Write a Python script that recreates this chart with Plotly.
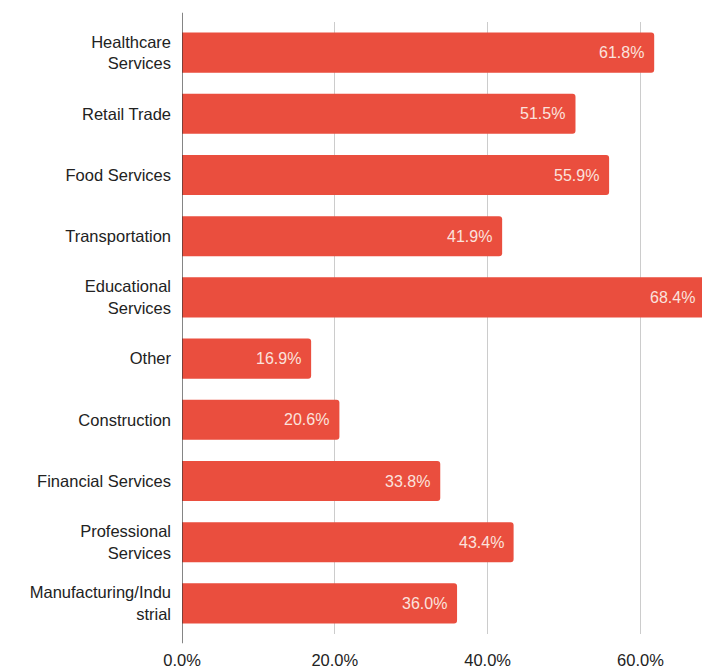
import plotly.graph_objects as go

categories = ["Healthcare<br>Services", "Retail Trade", "Food Services", "Transportation",
              "Educational<br>Services", "Other", "Construction", "Financial Services",
              "Professional<br>Services", "Manufacturing/Indu<br>strial"]
values = [0.618, 0.515, 0.559, 0.419, 0.684, 0.169, 0.206, 0.338, 0.434, 0.360]
value_labels = ["61.8%", "51.5%", "55.9%", "41.9%", "68.4%", "16.9%", "20.6%", "33.8%", "43.4%", "36.0%"]
tick_vals = [0, 0.2, 0.4, 0.6]
tick_text = ["0.0%", "20.0%", "40.0%", "60.0%"]

FONT = "Liberation Sans, Arial, sans-serif"

fig = go.Figure(go.Bar(
    y=categories, x=values, orientation="h",
    marker=dict(color="#ea4e3e", cornerradius=3, line=dict(width=0)),
    hoverinfo="x+y",
    cliponaxis=True,
))

annotations = [
    dict(x=v, y=c, xref="x", yref="y", text=t, showarrow=False,
         xanchor="right", yanchor="middle", xshift=-8,
         font=dict(family=FONT, size=16, color="#fbe2dd"))
    for c, v, t in zip(categories, values, value_labels)
]

fig.update_layout(
    width=705, height=670,
    margin=dict(l=182, r=0, t=22, b=36, autoexpand=False),
    paper_bgcolor="white", plot_bgcolor="white",
    bargap=0.345,
    showlegend=False,
    font=dict(family=FONT, size=16.5, color="#222222"),
    xaxis=dict(range=[0, 0.6845], tickvals=tick_vals, ticktext=tick_text,
               showgrid=True, gridcolor="#cccccc", gridwidth=1, zeroline=False,
               showline=False, ticks="", ticklabelstandoff=14, automargin=False,
               tickfont=dict(family=FONT, size=16.5, color="#222222")),
    yaxis=dict(autorange="reversed", showgrid=False, zeroline=False, showline=False,
               ticks="", ticklabelstandoff=10, automargin=False,
               tickfont=dict(family=FONT, size=16.5, color="#222222")),
    shapes=[dict(type="line", xref="x", yref="paper", x0=0, x1=0, y0=-0.015, y1=1.015,
                 line=dict(color="#333333", width=1.2))],
    annotations=annotations,
)

fig.write_html(
    "out.html",
    config={"displayModeBar": False},
    post_script="document.body.style.margin='0';document.body.style.overflow='hidden';"
                "document.documentElement.style.overflow='hidden';",
)
